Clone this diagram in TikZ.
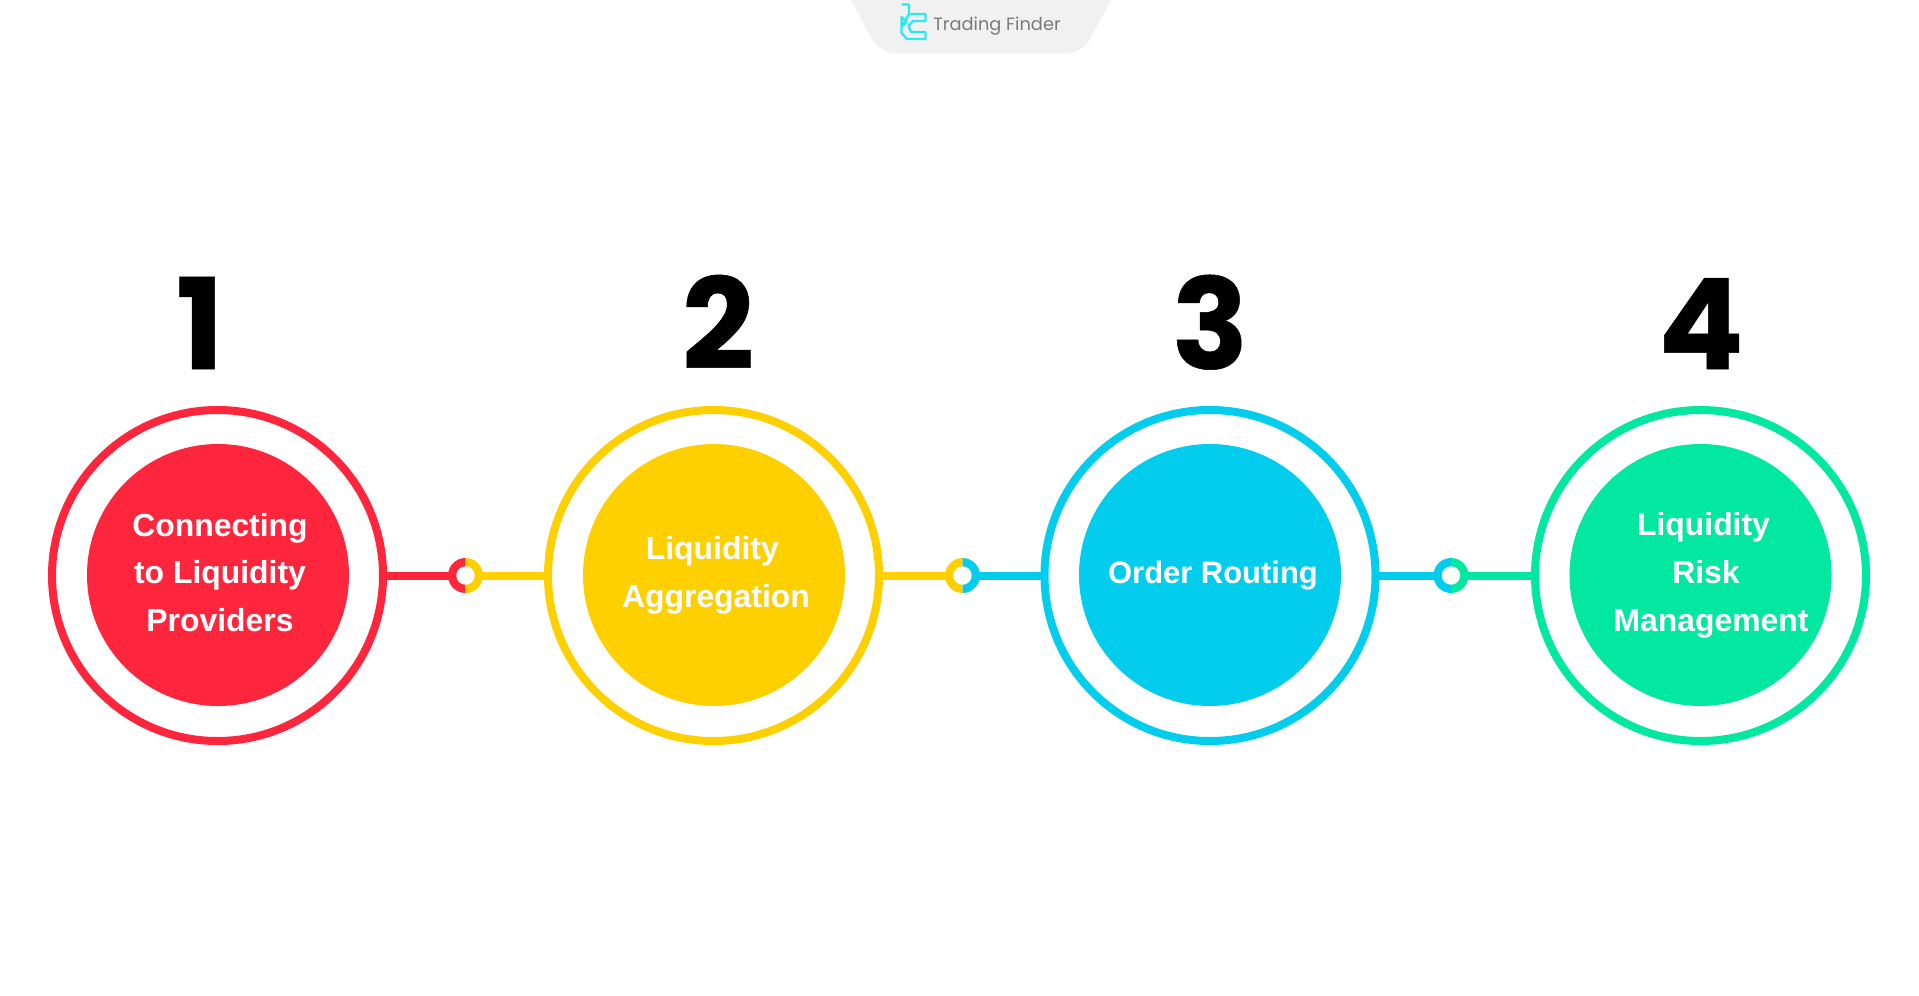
\documentclass[tikz,border=0pt]{standalone}
\usepackage{fontspec}
\setmainfont{Liberation Sans}
\newfontfamily\numfont[FakeBold=0.4]{Poppins Bold}
\newfontfamily\brandfont{Poppins}
\definecolor{cred}{HTML}{FE263D}
\definecolor{cyel}{HTML}{FFD000}
\definecolor{cblu}{HTML}{03CDEC}
\definecolor{cgrn}{HTML}{02E8A0}
\definecolor{tabgray}{HTML}{F1F1F1}
\definecolor{tfcyan}{HTML}{2CE8F0}
\definecolor{tfgray}{HTML}{7A7A7A}
\newdimen\pxu \pxu=0.0264583cm
\tikzset{x=0.0264583cm,y=-0.0264583cm,
 ringnode/.style={circle,draw=#1,line width=8\pxu,fill=white,minimum size=331\pxu,inner sep=0pt,outer sep=0pt},
 corenode/.style={circle,fill=#1,minimum size=262\pxu,inner sep=0pt,outer sep=0pt},
 labelnode/.style={text=white,font=\fontsize{24pt}{36pt}\selectfont\bfseries,align=center,inner sep=0pt},
 numnode/.style={font=\fontsize{95pt}{96pt}\selectfont\numfont,text=black,inner sep=0pt,anchor=base},
 linkline/.style={draw=#1,line width=8\pxu},
 logoline/.style={draw=tfcyan,line width=2.4\pxu}
}
\newcommand{\joint}[3]{% x, left colour, right colour
 \fill[#2] (#1,558) arc[start angle=-90,end angle=-270,radius=17.5] -- cycle;
 \fill[#3] (#1,558) arc[start angle=-90,end angle=90,radius=17.5] -- cycle;
 \fill[white] (#1,575.5) circle[radius=9.2];
}
\begin{document}
\begin{tikzpicture}[line join=round]
\useasboundingbox (0,0) rectangle (1919,996);
\fill[white] (0,0) rectangle (1919,996);
% tab
\fill[tabgray,rounded corners=12] (840,-20) -- (880,53.5) -- (1082,53.5) -- (1122,-20) -- cycle;
\draw[logoline] (901.5,4.5) -- (909,4.5) -- (909,14) -- (925.5,14) -- (925.5,21) -- (913,21) -- (908.5,26) -- (911,32) -- (925.5,32) -- (925.5,39) -- (907,39) -- (901.5,33) -- (901.5,27) -- (909,14) (901.5,27) -- (906.5,22) -- (901.5,17) -- cycle;
\node[text=tfgray,font=\fontsize{13.4pt}{14pt}\selectfont\brandfont,inner sep=0pt] (brand) at (997,26.5) {Trading Finder};
% links
\coordinate (j1) at (465.5,575.5);
\coordinate (j2) at (962.5,575.5);
\coordinate (j3) at (1451,575.5);
\node[ringnode=cred] (r1) at (217.5,575.5) {};
\node[ringnode=cyel] (r2) at (713.5,575.5) {};
\node[ringnode=cblu] (r3) at (1210,575.5) {};
\node[ringnode=cgrn] (r4) at (1700.5,575.5) {};
\draw[linkline=cred] (r1.east) -- (j1);
\draw[linkline=cyel] (j1) -- (r2.west);
\draw[linkline=cyel] (r2.east) -- (j2);
\draw[linkline=cblu] (j2) -- (r3.west);
\draw[linkline=cblu] (r3.east) -- (j3);
\draw[linkline=cgrn] (j3) -- (r4.west);
\joint{465.5}{cred}{cyel}
\joint{962.5}{cyel}{cblu}
\joint{1451}{cblu}{cgrn}
\node[corenode=cred] (c1) at (218,575) {};
\node[corenode=cyel] (c2) at (714,575) {};
\node[corenode=cblu] (c3) at (1210,575) {};
\node[corenode=cgrn] (c4) at (1700.5,575) {};
\node[labelnode] (t1) at (220,572.5) {Connecting\\to Liquidity\\Providers};
\node[labelnode] (t2) at (716,575.5) {\mbox{Liquidity\kern5.6pt}\\Aggregation};
\node[labelnode,font=\fontsize{23.3pt}{36pt}\selectfont\bfseries] (t3) at (1213,575.5) {Order Routing};
\node[labelnode] (t4) at (1706,575.5) {\mbox{Liquidity\kern3.8pt}\\Risk\\\mbox{\kern7.5pt Management}};
\node[numnode] (n1) at (200,369) {1};
\node[numnode] (n2) at (718,369) {2};
\node[numnode] (n3) at (1210,369) {3};
\node[numnode] (n4) at (1701,369) {4};
\end{tikzpicture}
\end{document}
